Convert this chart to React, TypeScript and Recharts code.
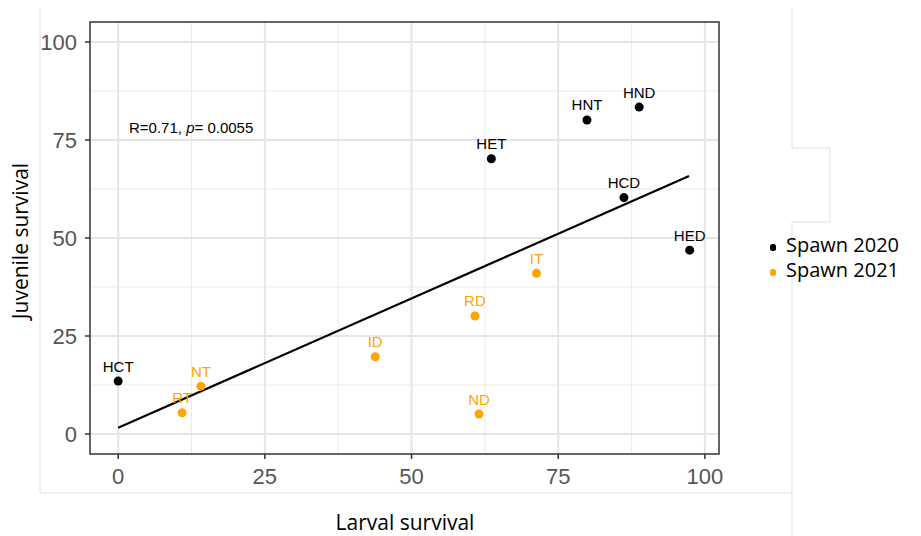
import { ScatterChart, Scatter, XAxis, YAxis, ZAxis, CartesianGrid, ReferenceLine, LabelList } from "recharts";

const names2020 = ["HCT", "HET", "HNT", "HND", "HCD", "HED"];
const larval2020 = [0, 63.6, 79.9, 88.8, 86.2, 97.4];
const juvenile2020 = [13.5, 70.2, 80.1, 83.4, 60.3, 46.9];

const names2021 = ["RT", "NT", "ID", "RD", "ND", "IT"];
const larval2021 = [10.9, 14.1, 43.8, 60.8, 61.5, 71.3];
const juvenile2021 = [5.4, 12.2, 19.7, 30.1, 5.1, 41.0];

// end points of the fitted regression line
const fitLine = [
  { x: 0, y: 1.6 },
  { x: 97.3, y: 65.8 },
];

const majorTicks = [0, 25, 50, 75, 100];
const minorTicks = [12.5, 37.5, 62.5, 87.5];

const legendLabels = ["Spawn 2020", "Spawn 2021"];
const seriesColors = ["#000000", "#FFA500"];

const build = (names: string[], xs: number[], ys: number[]) =>
  names.map((name, i) => ({ name, x: xs[i], y: ys[i] }));

const data2020 = build(names2020, larval2020, juvenile2020);
const data2021 = build(names2021, larval2021, juvenile2021);

const tickStyle = { fontSize: 22, fill: "#555", fontFamily: "'Liberation Sans', Arial, sans-serif" };
const titleFont = "'Open Sans', sans-serif";
const labelStyle = { fontSize: 15, fontFamily: "'Liberation Sans', Arial, sans-serif" };

export default function App() {
  return (
    <div style={{ position: "absolute", left: 0, top: 0, width: 921, height: 536, background: "#fff" }}>
      <ScatterChart width={921} height={536} margin={{ top: 22, right: 202, bottom: 42, left: 0 }}>
        <CartesianGrid stroke="#ebebeb" strokeWidth={1} verticalValues={minorTicks} horizontalValues={minorTicks} />
        <CartesianGrid stroke="#e6e6e6" strokeWidth={2} verticalValues={majorTicks} horizontalValues={majorTicks} />
        <XAxis
          type="number"
          dataKey="x"
          domain={[-4.8, 102.4]}
          ticks={majorTicks}
          allowDataOverflow
          height={40}
          axisLine={false}
          tickLine={{ stroke: "#333", strokeWidth: 1.5 }}
          tickSize={5}
          tickMargin={9}
          tick={tickStyle}
        />
        <YAxis
          type="number"
          dataKey="y"
          domain={[-5.1, 105.1]}
          ticks={majorTicks}
          allowDataOverflow
          width={90}
          axisLine={false}
          tickLine={{ stroke: "#333", strokeWidth: 1.5 }}
          tickSize={5}
          tickMargin={8}
          tick={tickStyle}
        />
        <ZAxis range={[36, 36]} />
        <ReferenceLine segment={fitLine} stroke="#000" strokeWidth={2.2} />
        <Scatter data={data2020} fill={seriesColors[0]} isAnimationActive={false}>
          <LabelList dataKey="name" position="top" offset={5} fill={seriesColors[0]} style={labelStyle} />
        </Scatter>
        <Scatter data={data2021} fill={seriesColors[1]} isAnimationActive={false}>
          <LabelList dataKey="name" position="top" offset={5} fill={seriesColors[1]} style={labelStyle} />
        </Scatter>
      </ScatterChart>

      {/* panel border, outer frame, titles, annotation and legend */}
      <svg width={921} height={536} style={{ position: "absolute", left: 0, top: 0, pointerEvents: "none" }}>
        <rect x={90} y={22} width={629} height={432} fill="none" stroke="#333" strokeWidth={1.5} />
        <polyline
          points="40,8 40,493 792,493 792,222 830,222 830,148 792,148 792,8"
          fill="none"
          stroke="#e0e0e0"
          strokeWidth={1}
        />
        <line x1={792} y1={493} x2={792} y2={536} stroke="#e0e0e0" strokeWidth={1} />
        <text x={129} y={133} fontSize={15} fontFamily="'Liberation Sans', Arial, sans-serif" fill="#000">
          R=0.71, <tspan fontStyle="italic">p</tspan>= 0.0055
        </text>
        <text x={405} y={530} fontSize={21} fontFamily={titleFont} textAnchor="middle" fill="#000">
          Larval survival
        </text>
        <text
          x={28}
          y={241}
          fontSize={21}
          fontFamily={titleFont}
          textAnchor="middle"
          fill="#000"
          transform="rotate(-90 28 241)"
        >
          Juvenile survival
        </text>
        {legendLabels.map((label, i) => (
          <g key={label}>
            <rect x={770} y={244 + i * 25} width={6} height={7} rx={2.5} fill={seriesColors[i]} />
            <text x={786} y={252 + i * 25} fontSize={20} fontFamily={titleFont} fill="#000">
              {label}
            </text>
          </g>
        ))}
      </svg>
    </div>
  );
}
